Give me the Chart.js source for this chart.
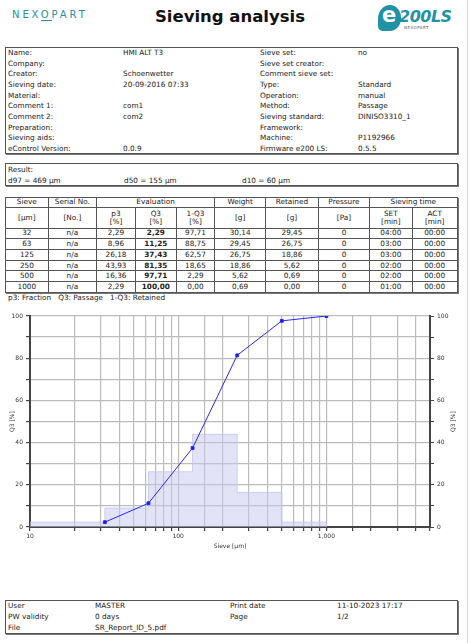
<!DOCTYPE html>
<html>
<head>
<meta charset="utf-8">
<script src="https://cdn.jsdelivr.net/npm/chart.js@4/dist/chart.umd.min.js"></script>
<style>
  body { margin: 0; width: 471px; height: 643px; background: #fff; position: relative; overflow: hidden;
         font-family: "DejaVu Sans", sans-serif; color: #222; }
  .abs { position: absolute; }
  .box { position: absolute; border: 1px solid #555; box-shadow: 1px 1px 0 #777; box-sizing: border-box; }
  .t { position: absolute; font-size: 7.3px; white-space: nowrap; line-height: 9px; }
  #edge { position: absolute; left: 467px; top: 0; width: 1px; height: 643px; background: #d4d4d4; }
  table { position: absolute; left: 5px; top: 197px; border-collapse: collapse; table-layout: fixed;
          font-size: 7.3px; box-shadow: 1px 1px 0 #777; }
  td { border: 1px solid #555; text-align: center; padding: 0; line-height: 8px; height: 9.7px; }
  tr.h1 td { height: 8.6px; }
  tr.h2 td { height: 20px; }
  td b { font-weight: bold; }
</style>
</head>
<body>
<div id="edge"></div>

<!-- header -->
<div class="abs" style="left:12px;top:9px;font-size:10px;letter-spacing:2.9px;color:#2a8e9e;">NEX<span style="border-bottom:1px solid #2a8e9e;">O</span>PART</div>
<div class="abs" style="left:0;width:460px;top:7px;text-align:center;font-size:16.5px;font-weight:bold;color:#111;">Sieving analysis</div>
<div class="abs" style="left:378px;top:5px;width:23px;height:26px;background:#1f92a6;border-radius:55% 50% 50% 20%;"></div>
<div class="abs" style="left:382px;top:3px;font-size:21px;font-weight:bold;color:#fff;">e</div>
<div class="abs" style="left:399px;top:7px;font-size:16px;font-weight:bold;font-style:italic;color:#1f92a6;letter-spacing:-0.5px;">200LS</div>
<div class="abs" style="left:404px;top:25px;font-size:4px;color:#555;letter-spacing:0.5px;">NEXOPART</div>

<!-- info box -->
<div class="box" style="left:5px;top:47px;width:453px;height:107px;"></div>
<div id="info"></div>

<!-- result box -->
<div class="box" style="left:5px;top:163px;width:453px;height:23px;"></div>
<div class="t" style="left:8px;top:165px;">Result:</div>
<div class="t" style="left:8px;top:176px;">d97 = 469 µm</div>
<div class="t" style="left:124px;top:176px;">d50 = 155 µm</div>
<div class="t" style="left:242px;top:176px;">d10 = 60 µm</div>

<!-- table -->
<table id="tbl"></table>
<div class="t" style="left:8px;top:293px;">p3: Fraction&nbsp;&nbsp; Q3: Passage&nbsp;&nbsp; 1-Q3: Retained</div>

<!-- chart -->
<canvas id="sieveChart" width="466" height="250" style="position:absolute;left:0;top:306px;"></canvas>

<!-- footer -->
<div class="box" style="left:5px;top:600px;width:453px;height:34px;"></div>
<div id="foot"></div>

<script>
// sieve sizes [µm] and results
const sieves = [32, 63, 125, 250, 500, 1000];
const serialNo = ["n/a", "n/a", "n/a", "n/a", "n/a", "n/a"];
const p3 = [2.29, 8.96, 26.18, 43.93, 16.36, 2.29];
const Q3 = [2.29, 11.25, 37.43, 81.35, 97.71, 100.00];
const oneMinusQ3 = [97.71, 88.75, 62.57, 18.65, 2.29, 0.00];
const weight = [30.14, 29.45, 26.75, 18.86, 5.62, 0.69];
const retained = [29.45, 26.75, 18.86, 5.62, 0.69, 0.00];
const pressure = [0, 0, 0, 0, 0, 0];
const setTime = ["04:00", "03:00", "03:00", "02:00", "02:00", "01:00"];
const actTime = ["00:00", "00:00", "00:00", "00:00", "00:00", "00:00"];

const xMin = 10;
const xMax = 5000;
const yTicks = [0, 20, 40, 60, 80, 100];

const infoLeft = [
  ["Name:", "HMI ALT T3"], ["Company:", ""], ["Creator:", "Schoenwetter"],
  ["Sieving date:", "20-09-2016  07:33"], ["Material:", ""], ["Comment 1:", "com1"],
  ["Comment 2:", "com2"], ["Preparation:", ""], ["Sieving aids:", ""], ["eControl Version:", "0.0.9"]
];
const infoRight = [
  ["Sieve set:", "no"], ["Sieve set creator:", ""], ["Comment sieve set:", ""],
  ["Type:", "Standard"], ["Operation:", "manual"], ["Method:", "Passage"],
  ["Sieving standard:", "DINISO3310_1"], ["Framework:", ""], ["Machine:", "P1192966"], ["Firmware e200 LS:", "0.5.5"]
];
const footer = [
  ["User", "MASTER", "Print date", "11-10-2023  17:17"],
  ["PW validity", "0 days", "Page", "1/2"],
  ["File", "SR_Report_ID_5.pdf", "", ""]
];

const fmt = (v) => v.toFixed(2).replace(".", ",");

// info box text
let html = "";
infoLeft.forEach((r, i) => {
  const y = 48 + i * 10.65;
  html += `<div class="t" style="left:8px;top:${y}px">${r[0]}</div><div class="t" style="left:123px;top:${y}px">${r[1]}</div>`;
});
infoRight.forEach((r, i) => {
  const y = 48 + i * 10.65;
  html += `<div class="t" style="left:260px;top:${y}px">${r[0]}</div><div class="t" style="left:358px;top:${y}px">${r[1]}</div>`;
});
document.getElementById("info").innerHTML = html;

// footer text
html = "";
footer.forEach((r, i) => {
  const y = 601 + i * 10.8;
  [8, 95, 230, 337].forEach((x, j) => {
    html += `<div class="t" style="left:${x}px;top:${y}px">${r[j]}</div>`;
  });
});
document.getElementById("foot").innerHTML = html;

// table
const colW = [42.7, 48.3, 39, 40.7, 38.6, 50.7, 53, 51, 42.7, 45];
let t = "<colgroup>" + colW.map(w => `<col style="width:${w}px">`).join("") + "</colgroup>";
t += '<tr class="h1"><td>Sieve</td><td>Serial No.</td><td colspan="3">Evaluation</td><td>Weight</td><td>Retained</td><td>Pressure</td><td colspan="2">Sieving time</td></tr>';
t += '<tr class="h2"><td>[µm]</td><td>[No.]</td><td>p3<br>[%]</td><td>Q3<br>[%]</td><td>1-Q3<br>[%]</td><td>[g]</td><td>[g]</td><td>[Pa]</td><td>SET<br>[min]</td><td>ACT<br>[min]</td></tr>';
sieves.forEach((s, i) => {
  t += `<tr><td>${s}</td><td>${serialNo[i]}</td><td>${fmt(p3[i])}</td><td><b>${fmt(Q3[i])}</b></td><td>${fmt(oneMinusQ3[i])}</td>` +
       `<td>${fmt(weight[i])}</td><td>${fmt(retained[i])}</td><td>${pressure[i]}</td><td>${setTime[i]}</td><td>${actTime[i]}</td></tr>`;
});
document.getElementById("tbl").innerHTML = t;

// chart data
const q3Points = sieves.map((s, i) => ({ x: s, y: Q3[i] }));
const histEdges = [xMin].concat(sieves);
const histPoints = histEdges.map((x, i) => ({ x: x, y: i < p3.length ? p3[i] : 0 }));

const tickFont = { family: "DejaVu Sans", size: 6 };
const gridColor = "#bcbcbc";
const yAxisCommon = {
  min: 0,
  max: 100,
  ticks: {
    stepSize: 10,
    font: tickFont,
    color: "#333",
    padding: 3,
    callback: (v) => (yTicks.includes(v) ? v : ""),
  },
  border: { color: "#444", width: 2 },
};

// right axis title, read bottom to top like the left one
const rightTitle = {
  id: "rightTitle",
  afterDraw(chart) {
    const s = chart.scales.y2;
    const c = chart.ctx;
    c.save();
    c.translate(s.right - 13, (s.top + s.bottom) / 2);
    c.rotate(-Math.PI / 2);
    c.font = "6px 'DejaVu Sans'";
    c.fillStyle = "#333";
    c.textAlign = "center";
    c.textBaseline = "middle";
    c.fillText("Q3 [%]", 0, 0);
    c.restore();
  },
};

const ctx = document.querySelector("#sieveChart").getContext("2d");
const sieveChart = new Chart(ctx, {
  type: "line",
  data: {
    datasets: [
      {
        label: "Q3",
        data: q3Points,
        borderColor: "rgb(40, 40, 250)",
        backgroundColor: "rgb(20, 20, 240)",
        borderWidth: 1,
        pointStyle: "rect",
        pointRadius: 2,
        fill: false,
        xAxisID: "x",
        yAxisID: "y",
      },
      {
        label: "p3",
        data: histPoints,
        stepped: "before",
        fill: "origin",
        backgroundColor: "rgba(200, 200, 242, 0.5)",
        borderColor: "rgba(195, 195, 240, 0.8)",
        borderWidth: 1,
        pointRadius: 0,
        xAxisID: "x",
        yAxisID: "y2",
      },
    ],
  },
  options: {
    responsive: false,
    animation: false,
    devicePixelRatio: 1,
    layout: { padding: { top: 10, left: 0, right: 0, bottom: 0 } },
    plugins: {
      legend: { display: false },
      tooltip: { enabled: false },
    },
    scales: {
      x: {
        type: "logarithmic",
        min: xMin,
        max: xMax,
        ticks: {
          autoSkip: false,
          maxRotation: 0,
          font: tickFont,
          color: "#333",
          padding: 2,
          callback: (v) => {
            const l = Math.log10(v);
            return Math.abs(l - Math.round(l)) < 1e-9 ? v.toLocaleString("en-US") : "";
          },
        },
        grid: { color: gridColor, lineWidth: 1.2, tickColor: "#444", tickLength: 4 },
        border: { color: "#444", width: 2 },
        title: { display: true, text: "Sieve [µm]", font: tickFont, color: "#333", padding: { top: 0, bottom: 6 } },
        afterFit: (s) => { s.height = 29; },
      },
      y: Object.assign({}, yAxisCommon, {
        position: "left",
        grid: { color: gridColor, lineWidth: 1.2, tickColor: "#444", tickLength: 4 },
        title: { display: true, text: "Q3 [%]", font: tickFont, color: "#333", padding: 9 },
        afterFit: (s) => { s.width = 30; },
      }),
      y2: Object.assign({}, yAxisCommon, {
        position: "right",
        grid: { drawOnChartArea: false, tickColor: "#444", tickLength: 4 },
        title: { display: false },
        afterFit: (s) => { s.width = 36; },
      }),
    },
  },
  plugins: [rightTitle],
});
</script>
</body>
</html>
